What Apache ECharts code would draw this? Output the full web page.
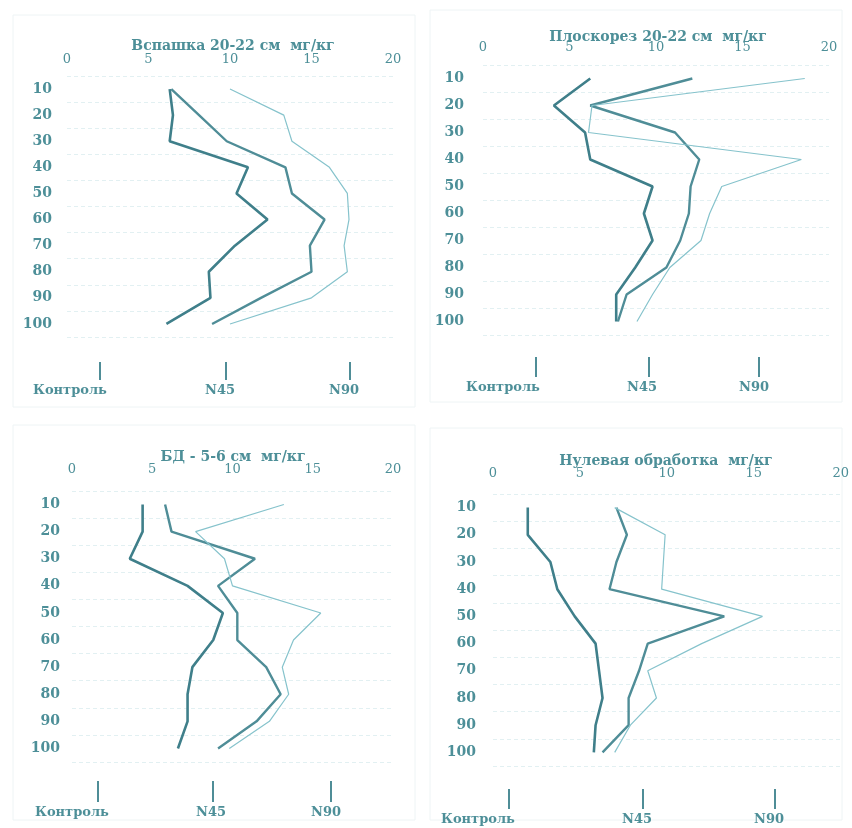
<!DOCTYPE html>
<html>
<head>
<meta charset="utf-8">
<script src="https://cdn.jsdelivr.net/npm/echarts@6/dist/echarts.min.js"></script>
<style>
  html, body { margin: 0; padding: 0; background: #fff; }
  #chart { width: 852px; height: 828px; }
</style>
</head>
<body>
<div id="chart"></div>
<script>
// depth, cm
const depths = ["10", "20", "30", "40", "50", "60", "70", "80", "90", "100"];
const xTicks = [0, 5, 10, 15, 20];
const seriesNames = ["Контроль", "N45", "N90"];
const titles = [
  "Вспашка 20-22 см  мг/кг",
  "Плоскорез 20-22 см  мг/кг",
  "БД - 5-6 см  мг/кг",
  "Нулевая обработка  мг/кг",
];

// Вспашка
const plough_ctrl = [6.3, 6.5, 6.3, 11.1, 10.4, 12.3, 10.3, 8.7, 8.8, 6.1];
const plough_n45 = [6.4, 8.1, 9.8, 13.4, 13.8, 15.8, 14.9, 15.0, 11.9, 8.9];
const plough_n90 = [10.0, 13.3, 13.8, 16.1, 17.2, 17.3, 17.0, 17.2, 15.0, 10.0];
// Плоскорез
const flat_ctrl = [6.2, 4.1, 5.9, 6.2, 9.8, 9.3, 9.8, 8.8, 7.7, 7.7];
const flat_n45 = [12.1, 6.2, 11.1, 12.5, 12.0, 11.9, 11.4, 10.6, 8.3, 7.8];
const flat_n90 = [18.6, 6.3, 6.1, 18.4, 13.8, 13.1, 12.6, 10.8, 9.8, 8.9];
// БД
const disc_ctrl = [4.4, 4.4, 3.6, 7.2, 9.4, 8.8, 7.5, 7.2, 7.2, 6.6];
const disc_n45 = [5.8, 6.2, 11.4, 9.1, 10.3, 10.3, 12.1, 13.0, 11.5, 9.1];
const disc_n90 = [13.2, 7.7, 9.5, 10.0, 15.5, 13.8, 13.1, 13.5, 12.3, 9.8];
// Нулевая обработка
const zero_ctrl = [2.0, 2.0, 3.3, 3.7, 4.7, 5.9, 6.1, 6.3, 5.9, 5.8];
const zero_n45 = [7.1, 7.7, 7.1, 6.7, 13.3, 8.9, 8.4, 7.8, 7.8, 6.3];
const zero_n90 = [7.0, 9.9, 9.8, 9.7, 15.5, 12.0, 8.9, 9.4, 7.9, 7.0];

const panelData = [
  [plough_ctrl, plough_n45, plough_n90],
  [flat_ctrl, flat_n45, flat_n90],
  [disc_ctrl, disc_n45, disc_n90],
  [zero_ctrl, zero_n45, zero_n90],
];

// layout of the four panels
const panels = [
  { left: 67, right: 459, top: 76, height: 261, xMargin: 10, yMargin: 15, titleX: 228, titleY: 34,
    tickX: [100, 226, 350], tickY: [362, 380], labX: [70, 220, 344], labY: 391 },
  { left: 483, right: 23, top: 65, height: 270, xMargin: 11, yMargin: 19, titleX: 653, titleY: 25,
    tickX: [536, 649, 759], tickY: [357, 377], labX: [503, 642, 754], labY: 388 },
  { left: 72, right: 459, top: 491, height: 271, xMargin: 15, yMargin: 12, titleX: 228, titleY: 445,
    tickX: [98, 213, 331], tickY: [781, 802], labX: [72, 211, 326], labY: 813 },
  { left: 493, right: 11, top: 494, height: 272, xMargin: 14, yMargin: 17, titleX: 661, titleY: 449,
    tickX: [509, 643, 775], tickY: [789, 809], labX: [478, 637, 769], labY: 820 },
];

const textColor = "#4d8f98";
const lineColors = ["#3f7f8a", "#4f8d97", "#86c3cc"];
const lineWidths = [2.6, 2.4, 1.2];
const font = "'DejaVu Serif', 'Liberation Serif', serif";

const grid = [], xAxis = [], yAxis = [], series = [], title = [], graphic = [];

panels.forEach((p, i) => {
  grid.push({ left: p.left, right: p.right, top: p.top, height: p.height });
  title.push({
    text: titles[i],
    left: p.titleX,
    top: p.titleY,
    textAlign: "center",
    textStyle: { color: textColor, fontFamily: font, fontSize: 14, fontWeight: "bold" },
  });
  xAxis.push({
    gridIndex: i,
    type: "value",
    position: "top",
    min: xTicks[0],
    max: xTicks[xTicks.length - 1],
    interval: 5,
    axisLine: { show: false },
    axisTick: { show: false },
    splitLine: { show: false },
    axisLabel: { color: textColor, fontFamily: font, fontSize: 13, margin: p.xMargin },
  });
  yAxis.push({
    gridIndex: i,
    type: "category",
    data: depths,
    inverse: true,
    boundaryGap: true,
    axisLine: { show: false },
    axisTick: { show: false },
    splitLine: { show: true, lineStyle: { color: "#e2f0f2", type: [4, 3], width: 1 } },
    axisLabel: { color: textColor, fontFamily: font, fontSize: 14, fontWeight: "bold", margin: p.yMargin },
  });
  panelData[i].forEach((vals, k) => {
    series.push({
      name: seriesNames[k],
      type: "line",
      xAxisIndex: i,
      yAxisIndex: i,
      data: vals,
      symbol: "none",
      lineStyle: { color: lineColors[k], width: lineWidths[k] },
      animation: false,
    });
  });
  // legend: vertical ticks with labels under them
  seriesNames.forEach((name, k) => {
    graphic.push({
      type: "line",
      shape: { x1: p.tickX[k], y1: p.tickY[0], x2: p.tickX[k], y2: p.tickY[1] },
      style: { stroke: "#4f8d97", lineWidth: 2 },
    });
    graphic.push({
      type: "text",
      x: p.labX[k],
      y: p.labY,
      style: {
        text: name, fill: textColor, font: "bold 13px " + font,
        textAlign: "center", textVerticalAlign: "middle",
      },
    });
  });
});

// faint frames of the scanned panels
[[13, 15, 402, 392], [430, 10, 412, 392], [13, 425, 402, 395], [430, 428, 412, 392]].forEach(r => {
  graphic.push({
    type: "rect",
    shape: { x: r[0], y: r[1], width: r[2], height: r[3] },
    style: { fill: "none", stroke: "#eef4f5", lineWidth: 1 },
    z: -1,
  });
});

const chart = echarts.init(document.getElementById("chart"));
chart.setOption({
  backgroundColor: "#ffffff",
  animation: false,
  title: title,
  grid: grid,
  xAxis: xAxis,
  yAxis: yAxis,
  series: series,
  graphic: graphic,
});
</script>
</body>
</html>
